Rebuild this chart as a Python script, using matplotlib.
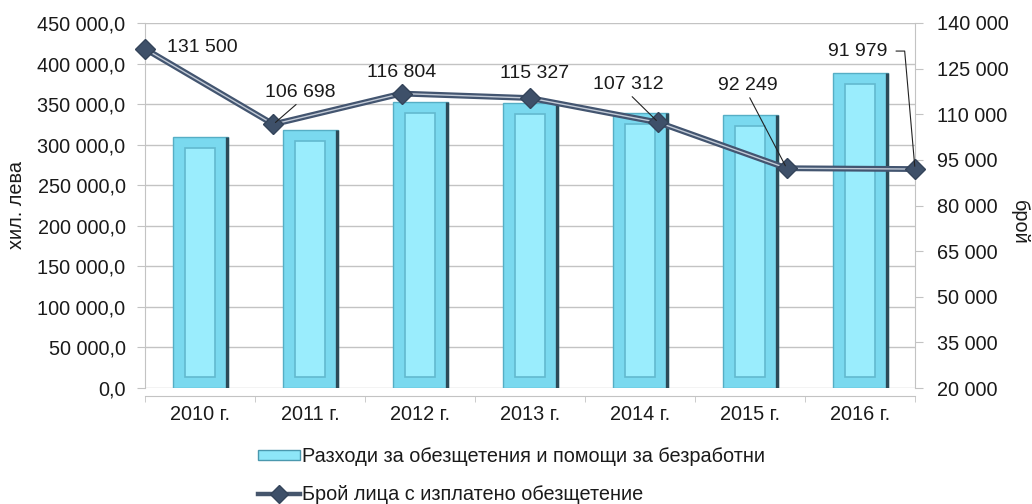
import matplotlib
matplotlib.use('Agg')
import matplotlib.pyplot as plt
from matplotlib.ticker import FuncFormatter, FixedLocator
from matplotlib.patches import Patch
from matplotlib.lines import Line2D
import numpy as np

# ---- data ----
years = ['2010 г.', '2011 г.', '2012 г.', '2013 г.', '2014 г.', '2015 г.', '2016 г.']
expenses = [309500, 318000, 353000, 351000, 338500, 336500, 388700]
persons = [131500, 106698, 116804, 115327, 107312, 92249, 91979]
left_ticks = [0, 50000, 100000, 150000, 200000, 250000, 300000, 350000, 400000, 450000]
right_ticks = [20000, 35000, 50000, 65000, 80000, 95000, 110000, 125000, 140000]
bar_label = 'Разходи за обезщетения и помощи за безработни'
line_label = 'Брой лица с изплатено обезщетение'
left_title = 'хил. лева'
right_title = 'брой'

# label offsets (pixels) and whether a leader line is drawn
label_offsets = [(57, 1), (27, 32), (0, 21), (5, 25), (-30, 38), (-39, 83), (-57, 118)]
label_leader = [None, 'straight', None, None, 'straight', 'straight', 'angle']

plt.rcParams['font.family'] = ['Liberation Sans', 'DejaVu Sans']
TXT = '#1a1a1a'
GRID = '#c3c3c3'
FS = 14.3

def fmt_space(v, dec=False):
    s = f"{int(round(v)):,}".replace(',', ' ')
    return s + ',0' if dec else s

fig = plt.figure(figsize=(10.32, 5.04), dpi=100)
pos = [145 / 1032, 1 - 388 / 504, 770 / 1032, 365 / 504]
ax = fig.add_axes(pos)
x = np.arange(len(years))
ax.set_xlim(-0.5, len(years) - 0.5)
ax.set_ylim(left_ticks[0], left_ticks[-1])

# bars with bevel look
bw = 0.5
vin = 0.03 * left_ticks[-1]
hin = 0.11
ev = np.array(expenses, dtype=float)
ax.bar(x, ev, width=bw, color='#7ad9ef', edgecolor='#56aec5', linewidth=1.0, zorder=2)
ax.bar(x, ev - 2 * vin, bottom=vin, width=bw - 2 * hin, color='#9aedfd',
       edgecolor='#62b9cf', linewidth=1.2, zorder=3)
ax.vlines(x + bw / 2 - 0.008, 0, ev, color='#2c4a58', linewidth=2.4, zorder=3)

# axes styling
ax.yaxis.set_major_locator(FixedLocator(left_ticks))
ax.yaxis.set_major_formatter(FuncFormatter(lambda v, p: fmt_space(v, True)))
ax.yaxis.grid(True, color=GRID, linewidth=1.0)
ax.set_axisbelow(True)
ax.tick_params(axis='y', direction='out', length=6, color=GRID, pad=8,
               labelsize=FS, labelcolor=TXT)
ax.set_xticks(x)
ax.set_xticklabels(years)
ax.set_xticks(np.arange(-0.5, len(years)), minor=True)
ax.tick_params(axis='x', which='major', length=0, pad=6, labelsize=FS, labelcolor=TXT)
ax.tick_params(axis='x', which='minor', length=4, color=GRID, direction='out')
for s in ['left', 'right', 'bottom']:
    ax.spines[s].set_color(GRID)
ax.spines['top'].set_visible(False)
ax.spines['bottom'].set_position(('outward', 6))

# secondary axes for line
ax2 = fig.add_axes(pos, frameon=False)
ax2.set_xlim(0, len(years) - 1)
ax2.set_ylim(right_ticks[0], right_ticks[-1])
ax2.xaxis.set_visible(False)
ax2.yaxis.tick_right()
ax2.yaxis.set_major_locator(FixedLocator(right_ticks))
ax2.yaxis.set_major_formatter(FuncFormatter(lambda v, p: fmt_space(v)))
ax2.tick_params(axis='y', direction='out', length=6, color=GRID, pad=10,
                labelsize=FS, labelcolor=TXT)
xp = np.arange(len(persons))
ax2.plot(xp, persons, color='#435570', lw=4.2, solid_joinstyle='round', clip_on=False, zorder=4)
ax2.plot(xp, persons, color='#c2cad6', lw=1.0, clip_on=False, zorder=5)
ax2.plot(xp, persons, ls='none', marker='D', ms=10, color='#3e5069',
         markeredgecolor='#34445a', clip_on=False, zorder=6)

for xi, v, off, lead in zip(xp, persons, label_offsets, label_leader):
    kw = {}
    if lead == 'straight':
        kw['arrowprops'] = dict(arrowstyle='-', color='#222222', lw=0.8,
                                shrinkA=1, shrinkB=2, relpos=(0.5, 0))
    elif lead == 'angle':
        kw['arrowprops'] = dict(arrowstyle='-', color='#222222', lw=0.8,
                                shrinkA=4, shrinkB=2, relpos=(1, 0.5),
                                connectionstyle='angle,angleA=0,angleB=95,rad=0')
    ax2.annotate(fmt_space(v), xy=(xi, v), xytext=off, textcoords='offset pixels',
                 ha='center', va='center', fontsize=14, color=TXT,
                 annotation_clip=False, zorder=7, **kw)

fig.text(17 / 1032, 1 - 205 / 504, left_title, rotation=90, ha='center', va='center',
         fontsize=FS, color=TXT)
fig.text(1019 / 1032, 1 - 222 / 504, right_title, rotation=270, ha='center', va='center',
         fontsize=FS, color=TXT)

handles = [Patch(facecolor='#8de6f8', edgecolor='#4a98ae', linewidth=1.0),
           Line2D([0], [0], color='#46566d', lw=3.2, marker='D', ms=9,
                  markerfacecolor='#3e5069', markeredgecolor='#34445a')]
fig.legend(handles, [bar_label, line_label], loc='upper left',
           bbox_to_anchor=(258 / 1032, 1 - 447 / 504), frameon=False,
           fontsize=FS, labelcolor=TXT, handlelength=2.1, handletextpad=0.12,
           labelspacing=0.95, handleheight=0.45, borderaxespad=0, borderpad=0)

fig.savefig('out.png', dpi=100)
